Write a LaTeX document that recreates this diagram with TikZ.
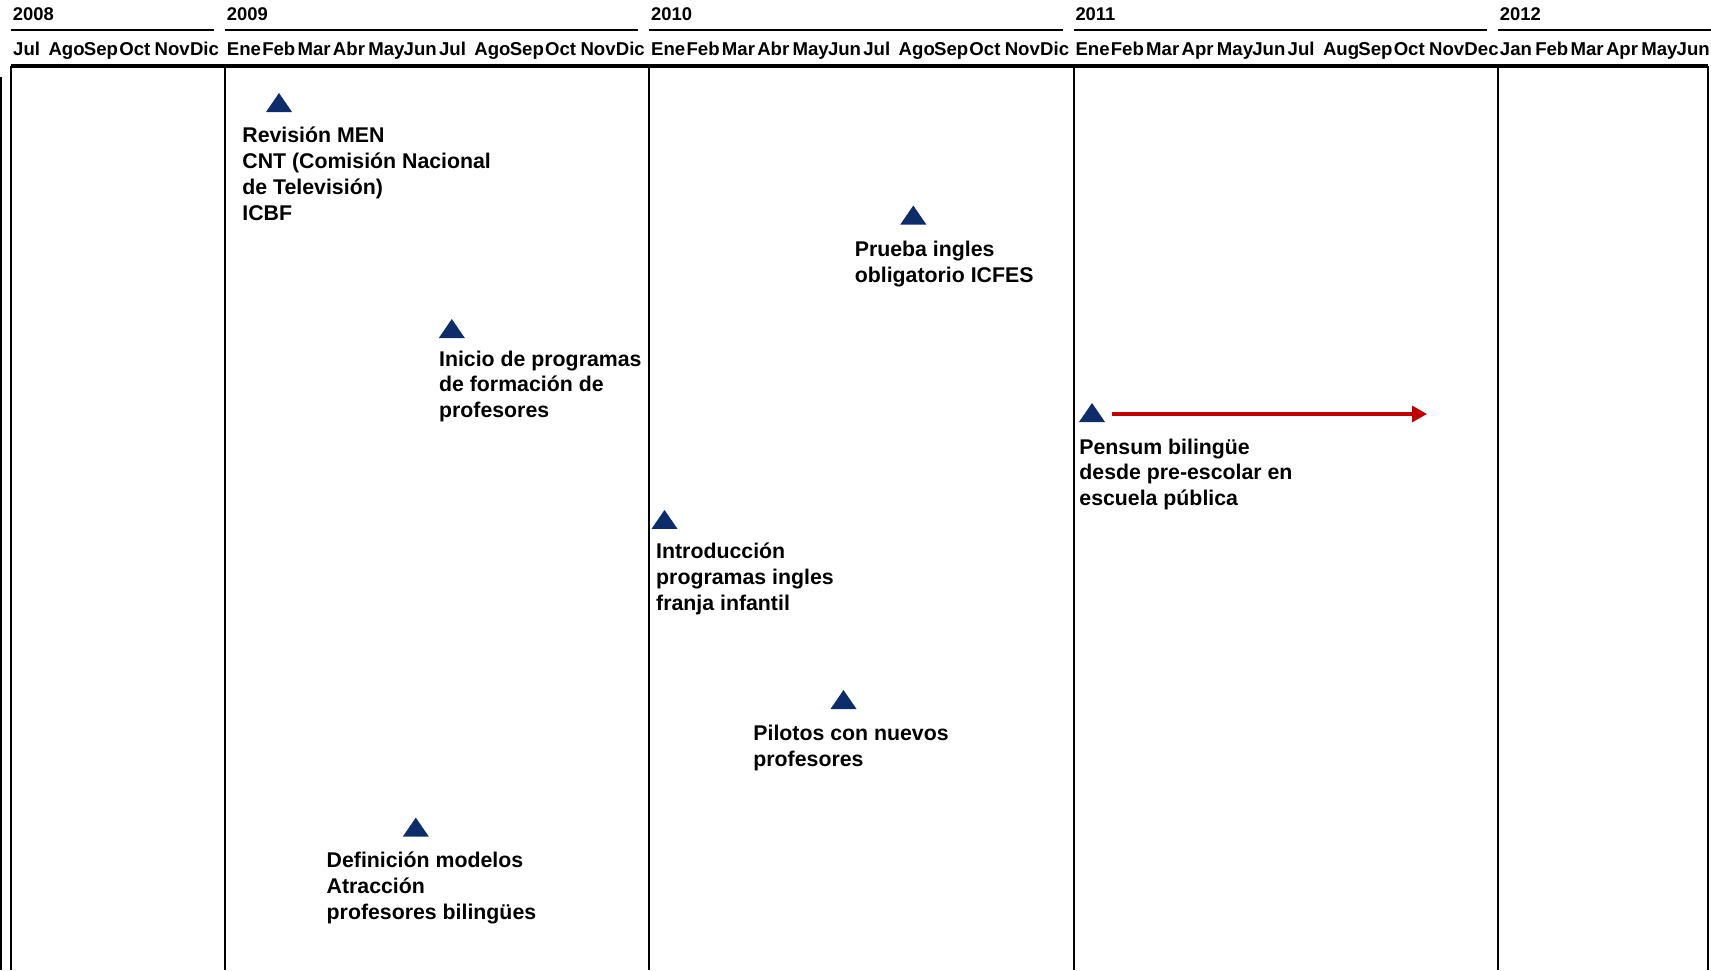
\documentclass[tikz,border=0pt]{standalone}
\usepackage{fontspec}
\setmainfont{Liberation Sans}
\usetikzlibrary{arrows.meta,calc}
\definecolor{azul}{RGB}{12,45,105}
\definecolor{rojo}{RGB}{192,0,0}

\begin{document}
\begin{tikzpicture}[x=0.5pt,y=-0.5pt,
    anio/.style={anchor=base west, inner sep=0, font=\fontsize{9.2}{11}\selectfont\bfseries},
    mes/.style={anchor=base west, inner sep=0, font=\fontsize{9.3}{11}\selectfont\bfseries},
    evento/.style={anchor=north west, inner sep=0, align=left, font=\fontsize{10.65}{12.9}\selectfont\bfseries, execute at begin node=\strut},
    marca/.style={fill=azul},
    rejilla/.style={line width=1pt},
    flecha/.style={-{Triangle[length=7.5pt,width=8pt]}, line width=1.6pt, rojo}
]
\useasboundingbox (0,0) rectangle (1711,970);

% Years with their rules
\foreach \a/\x/\f in {2008/11/214, 2009/225/638, 2010/649.3/1062.6, 2011/1073.6/1487, 2012/1498/1711} {
  \node[anio] (a\a) at (\x+1.5,20.5) {\a};
  \draw[line width=0.85pt] (\x,30) -- (\f,30);
}

% Months
\foreach \m [count=\i from 0] in {Jul,Ago,Sep,Oct,Nov,Dic}
  \node[mes] (m08-\i) at (12.8+35.36*\i,55) {\m};
\foreach \m [count=\i from 0] in {Ene,Feb,Mar,Abr,May,Jun,Jul,Ago,Sep,Oct,Nov,Dic}
  \node[mes] (m09-\i) at (226.5+35.36*\i,55) {\m};
\foreach \m [count=\i from 0] in {Ene,Feb,Mar,Abr,May,Jun,Jul,Ago,Sep,Oct,Nov,Dic}
  \node[mes] (m10-\i) at (650.8+35.36*\i,55) {\m};
\foreach \m [count=\i from 0] in {Ene,Feb,Mar,Apr,May,Jun,Jul,Aug,Sep,Oct,Nov,Dec}
  \node[mes] (m11-\i) at (1075.1+35.36*\i,55) {\m};
\foreach \m [count=\i from 0] in {Jan,Feb,Mar,Apr,May,Jun}
  \node[mes] (m12-\i) at (1499.5+35.36*\i,55) {\m};

% Grid
\draw[line width=1.6pt] (11,66) -- (1708,66);
\foreach \x in {11,225,649.3,1073.6,1498,1708}
  \draw[rejilla] (\x,66) -- (\x,970);
\draw[line width=0.8pt] (0.8,77) -- (0.8,970);

% Milestones
\coordinate (h1) at (279,102.5);
\coordinate (h2) at (913.3,215);
\coordinate (h3) at (451.8,328.5);
\coordinate (h4) at (1092,412.5);
\coordinate (h5) at (664.5,519.4);
\coordinate (h6) at (843.5,699.5);
\coordinate (h7) at (415.8,827.1);
\foreach \i in {1,...,7}
  \fill[marca] ($(h\i)+(-13,9.5)$) -- ($(h\i)+(13,9.5)$) -- ($(h\i)+(0,-9.5)$) -- cycle;

\node[evento] (e1) at (242,126.7) {Revisión MEN\\CNT (Comisión Nacional\\de Televisión)\\ICBF};
\node[evento] (e2) at (854.4,240.4) {Prueba ingles\\obligatorio ICFES};
\node[evento] (e3) at (438.7,350.3) {Inicio de programas\\de formación de\\profesores};
\node[evento] (e4) at (1079,438.2) {Pensum bilingüe\\desde pre-escolar en\\escuela pública};
\node[evento] (e5) at (655.8,542.7) {Introducción\\programas ingles\\franja infantil};
\node[evento] (e6) at (753,724.9) {Pilotos con nuevos\\profesores};
\node[evento] (e7) at (326.3,851.5) {Definición modelos\\Atracción\\profesores bilingües};

% Duration arrow
\coordinate (f4) at (1427,414);
\draw[flecha] ($(h4)+(20,1.5)$) -- (f4);
\end{tikzpicture}
\end{document}
